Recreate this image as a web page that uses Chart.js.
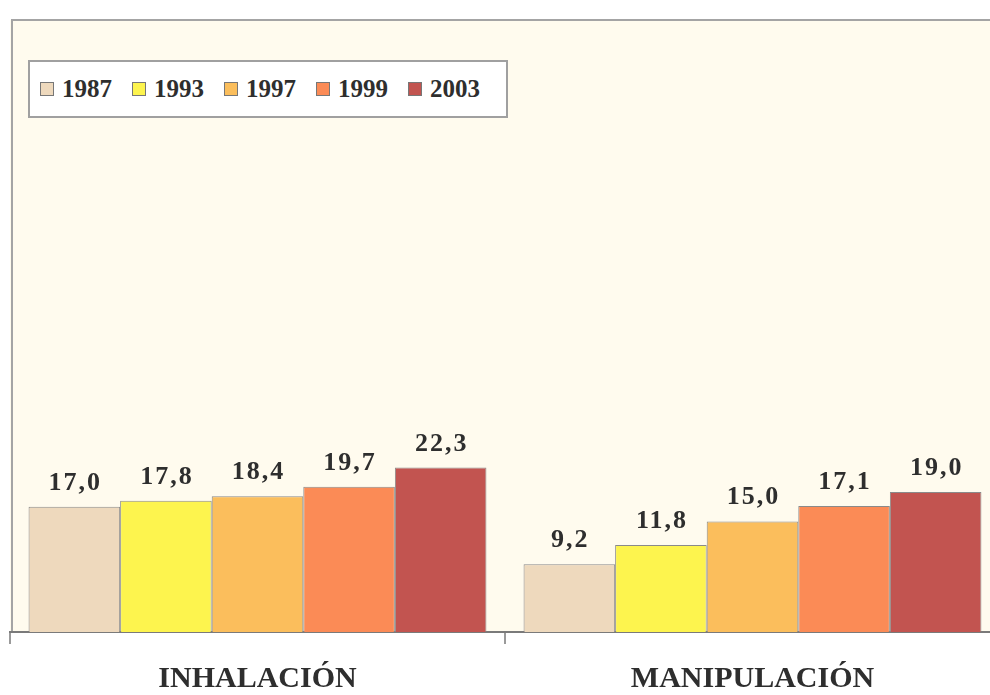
<!DOCTYPE html>
<html>
<head>
<meta charset="utf-8">
<script src="https://cdn.jsdelivr.net/npm/chart.js@4/dist/chart.umd.min.js"></script>
<style>
  html, body { margin: 0; padding: 0; background: #ffffff; overflow: hidden; width: 990px; height: 695px; }
  #wrap { position: relative; width: 1000px; height: 695px; }
  #legend {
    position: absolute; left: 28px; top: 60px; width: 466px; height: 54px;
    background: #ffffff; border: 2px solid #a0a0a0;
    display: flex; align-items: center; padding-left: 10px; box-sizing: content-box;
    font-family: "Liberation Serif", "DejaVu Serif", serif; font-weight: bold; font-size: 25px; color: #2e2e2e;
  }
  #legend .item { display: flex; align-items: center; margin-right: 20px; }
  #legend .sw { width: 14px; height: 14px; border: 1px solid #777; margin-right: 8px; box-sizing: border-box; }
</style>
</head>
<body>
<div id="wrap">
  <canvas id="c" width="1000" height="695"></canvas>
  <div id="legend"></div>
</div>
<script>
const categories = ["INHALACIÓN", "MANIPULACIÓN"];
const seriesNames = ["1987", "1993", "1997", "1999", "2003"];
const values1987 = [17.0, 9.2];
const values1993 = [17.8, 11.8];
const values1997 = [18.4, 15.0];
const values1999 = [19.7, 17.1];
const values2003 = [22.3, 19.0];
const seriesColors = ["#eed9bd", "#fdf44e", "#fbbe5c", "#fb8b56", "#c25450"];

const allValues = [values1987, values1993, values1997, values1999, values2003];

// HTML legend
const legendEl = document.getElementById('legend');
seriesNames.forEach((n, i) => {
  const it = document.createElement('div'); it.className = 'item';
  const sw = document.createElement('div'); sw.className = 'sw'; sw.style.background = seriesColors[i];
  const tx = document.createElement('span'); tx.textContent = n;
  it.appendChild(sw); it.appendChild(tx); legendEl.appendChild(it);
});

const bgPlugin = {
  id: 'bgPlugin',
  beforeDraw(chart) {
    const { ctx, chartArea: a } = chart;
    ctx.save();
    ctx.fillStyle = '#fffbee';
    ctx.fillRect(a.left, a.top, a.right - a.left, a.bottom - a.top);
    ctx.strokeStyle = '#a4a4a4';
    ctx.lineWidth = 2;
    ctx.beginPath();
    ctx.moveTo(a.left + 2, a.bottom);
    ctx.lineTo(a.left + 2, a.top);
    ctx.lineTo(a.right, a.top);
    ctx.stroke();
    ctx.restore();
  }
};

const labelPlugin = {
  id: 'labelPlugin',
  afterDatasetsDraw(chart) {
    const ctx = chart.ctx;
    ctx.save();
    ctx.font = 'bold 26px "Liberation Serif", serif';
    ctx.fillStyle = '#2e2e2e';
    ctx.textAlign = 'center';
    ctx.textBaseline = 'alphabetic';
    try { ctx.letterSpacing = '2px'; } catch (e) {}
    chart.data.datasets.forEach((ds, di) => {
      const meta = chart.getDatasetMeta(di);
      meta.data.forEach((el, i) => {
        const v = ds.data[i];
        ctx.fillText(v.toFixed(1).replace('.', ','), el.x + 1, el.y - 17);
      });
    });
    ctx.restore();
  }
};

new Chart(document.getElementById('c'), {
  type: 'bar',
  data: {
    labels: categories,
    datasets: seriesNames.map((n, i) => ({
      label: n,
      data: allValues[i],
      backgroundColor: seriesColors[i],
      borderColor: '#8a8a8a',
      borderWidth: 1,
      barPercentage: 1.0,
      categoryPercentage: 0.925
    }))
  },
  options: {
    responsive: false,
    animation: false,
    layout: { padding: { left: 10, top: 20, right: 0, bottom: 0 } },
    plugins: { legend: { display: false }, tooltip: { enabled: false } },
    scales: {
      x: {
        offset: true,
        grid: { display: true, drawOnChartArea: false, drawTicks: true, tickLength: 12, color: '#9a9a9a', lineWidth: 2, offset: true },
        border: { display: true, color: '#7a7a7a', width: 2 },
        ticks: { color: '#2e2e2e', font: { family: '"Liberation Serif", serif', weight: 'bold', size: 30 }, padding: 17 },
        afterFit(scale) { scale.height = 63; }
      },
      y: { display: false, min: 0, max: 83 }
    }
  },
  plugins: [bgPlugin, labelPlugin]
});
</script>
</body>
</html>
